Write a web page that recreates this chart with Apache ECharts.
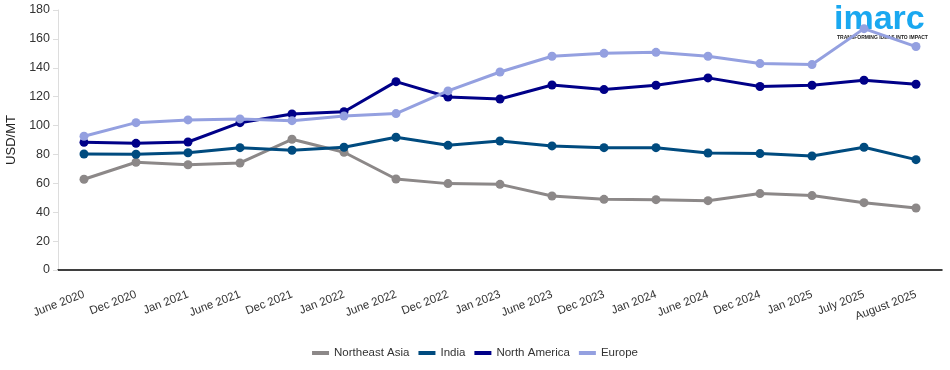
<!DOCTYPE html>
<html>
<head>
<meta charset="utf-8">
<script src="https://cdn.jsdelivr.net/npm/echarts@6/dist/echarts.min.js"></script>
<style>html,body{margin:0;padding:0;background:#fff}#c{width:950px;height:370px}</style>
</head>
<body>
<div id="c"></div>
<script>
const categories = ["June 2020","Dec 2020","Jan 2021","June 2021","Dec 2021","Jan 2022","June 2022","Dec 2022","Jan 2023","June 2023","Dec 2023","Jan 2024","June 2024","Dec 2024","Jan 2025","July 2025","August 2025"];
const northeastAsia = [62.8,74.6,72.9,74.1,90.5,81.5,63.0,59.8,59.3,51.2,48.9,48.7,48.0,52.9,51.5,46.6,42.9];
const india = [80.3,80.1,81.2,84.7,82.9,85.0,91.9,86.3,89.3,85.9,84.7,84.7,81.0,80.6,78.9,85.0,76.4];
const northAmerica = [88.4,87.7,88.6,102.0,108.0,109.6,130.4,119.8,118.4,128.1,124.9,127.9,133.0,127.0,127.9,131.4,128.6];
const europe = [92.6,102.0,103.9,104.6,103.4,106.6,108.3,124.0,137.1,148.0,150.0,150.7,148.0,142.9,142.2,167.1,154.7];
const yTicks = {min:0, max:180, interval:20};

const FONT = "'Liberation Sans', Arial, sans-serif";
const chart = echarts.init(document.getElementById('c'), null, {renderer:'canvas'});
function mk(name, data, color){
  return {name, type:'line', data, color, symbol:'circle', symbolSize:9,
    lineStyle:{width:3,color}, itemStyle:{color}, z:3};
}
chart.setOption({
  animation:false,
  textStyle:{fontFamily:FONT},
  grid:{left:58,right:8,top:10,bottom:100,containLabel:false,outerBoundsMode:'none'},
  legend:{bottom:6,left:'center',itemWidth:17,itemHeight:4,itemGap:9,icon:'rect',
    textStyle:{fontSize:11.5,color:'#333',fontFamily:FONT},
    data:['Northeast Asia','India','North America','Europe']},
  graphic:[
    {type:'text',left:834,top:3,z:-10,style:{text:'imarc',fontSize:34,fontWeight:'bold',fill:'#1aa8f0',fontFamily:FONT}},
    {type:'text',left:837,top:35,z:-10,style:{text:'TRANSFORMING IDEAS INTO IMPACT',fontSize:5,fontWeight:'bold',fill:'#222',fontFamily:FONT}}
  ],
  xAxis:{type:'category',data:categories,boundaryGap:true,
    axisLine:{lineStyle:{color:'#000',width:1.5}},
    axisTick:{alignWithLabel:true,length:7,lineStyle:{color:'#000'}},
    axisLabel:{rotate:21,fontSize:11.5,color:'#333',margin:24,interval:0,fontFamily:FONT}},
  yAxis:{type:'value',min:yTicks.min,max:yTicks.max,interval:yTicks.interval,
    name:'USD/MT',nameLocation:'middle',nameGap:39,nameRotate:90,
    nameTextStyle:{fontSize:13,color:'#222',fontFamily:FONT},
    axisLine:{show:true,lineStyle:{color:'#ddd'}},
    axisTick:{show:true,length:5,lineStyle:{color:'#ddd'}},
    splitLine:{show:false},
    axisLabel:{fontSize:12.5,color:'#333',margin:8,fontFamily:FONT}},
  series:[
    mk('Northeast Asia',northeastAsia,'#8c8888'),
    mk('India',india,'#004b7f'),
    mk('North America',northAmerica,'#000088'),
    mk('Europe',europe,'#94a0e0')
  ]
});
</script>
</body>
</html>
